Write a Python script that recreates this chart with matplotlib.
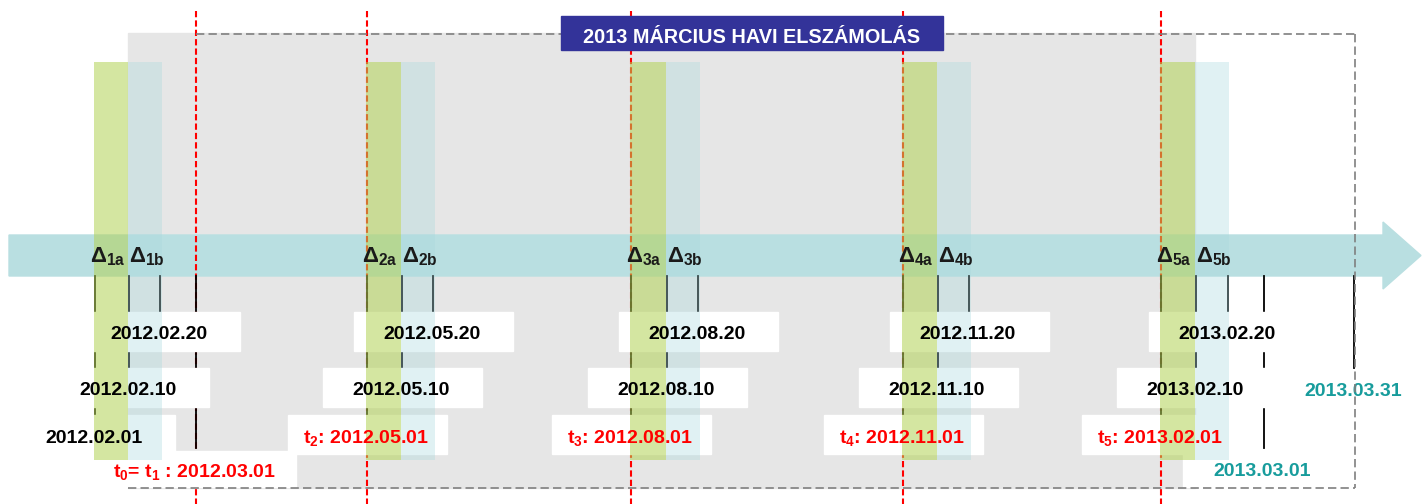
import matplotlib.pyplot as plt
from matplotlib.patches import Rectangle, Polygon

plt.rcParams['font.family'] = ['Liberation Sans', 'DejaVu Sans']
plt.rcParams['mathtext.fontset'] = 'custom'
plt.rcParams['mathtext.rm'] = 'Liberation Sans'
plt.rcParams['mathtext.bf'] = 'Liberation Sans:bold'
plt.rcParams['mathtext.it'] = 'Liberation Sans:italic'
plt.rcParams['mathtext.default'] = 'bf'

# timeline data (x = position on the drawn time axis)
periods = ['1', '2', '3', '4', '5']
day01_x = [95, 367, 631, 903, 1161]
day10_x = [129, 402, 667, 938, 1196]
day20_x = [160, 433, 698, 969, 1228]
t_x = [196, 367, 631, 903, 1161]

dates_20 = ['2012.02.20', '2012.05.20', '2012.08.20', '2012.11.20', '2013.02.20']
dates_10 = ['2012.02.10', '2012.05.10', '2012.08.10', '2012.11.10', '2013.02.10']
dates_01 = ['2012.02.01', 't$_2$: 2012.05.01', 't$_3$: 2012.08.01',
            't$_4$: 2012.11.01', 't$_5$: 2013.02.01']
colors_01 = ['black', 'red', 'red', 'red', 'red']

t0_label = 't$_0$= t$_1$ : 2012.03.01'
t0_x = 196
month_start_label = '2013.03.01'
month_start_x = 1264
month_end_label = '2013.03.31'
month_end_x = 1354

title = '2013 MÁRCIUS HAVI ELSZÁMOLÁS'

green = '#b2d255'
blue = '#a8d8dd'
teal = '#179c9c'

fig = plt.figure(figsize=(14.26, 5.04), dpi=100)
ax = fig.add_axes([0, 0, 1, 1])
ax.set_xlim(0, 1426)
ax.set_ylim(504, 0)
ax.axis('off')

# grey settlement window
ax.add_patch(Rectangle((128, 33), 1195 - 128, 488 - 33, color='#e6e6e6', zorder=1))

# time arrow
arrow = [(9, 235), (1383, 235), (1383, 222), (1421, 255.5),
         (1383, 289), (1383, 276), (9, 276)]
ax.add_patch(Polygon(arrow, closed=True, color='#b9dfe1', zorder=2))

# red t markers
for x in t_x:
    ax.plot([x, x], [11, 504], color='red', lw=1.5, ls=(0, (3, 1.5)), zorder=3)

# black ticks under the arrow
for i in range(len(periods)):
    ax.plot([day01_x[i]] * 2, [276, 425], color='black', lw=1.3, zorder=3)
    ax.plot([day10_x[i]] * 2, [276, 380], color='black', lw=1.3, zorder=3)
    ax.plot([day20_x[i]] * 2, [276, 320], color='black', lw=1.3, zorder=3)
for x, y1 in [(t0_x, 448), (month_start_x, 448), (month_end_x, 368)]:
    ax.plot([x, x], [276, y1], color='black', lw=1.3, zorder=3)

# white label boxes
bw, bh = 159, 38.5
rows = [(day20_x, 312), (day10_x, 368), (day01_x, 415)]
for xs, top in rows:
    for x in xs:
        ax.add_patch(Rectangle((x - bw / 2, top), bw, bh, color='white', zorder=4))
ax.add_patch(Rectangle((t0_x - 100, 451), 200, 36, color='white', zorder=4))
ax.add_patch(Rectangle((1183, 453), 160, 34, color='white', zorder=4))

# delta bands
for i in range(len(periods)):
    g0 = day01_x[i] - 1
    b0 = day10_x[i] - 1
    ax.add_patch(Rectangle((g0, 62), b0 - g0, 398, color=green, alpha=0.55, lw=0, zorder=5))
    ax.add_patch(Rectangle((b0, 62), 34, 398, color=blue, alpha=0.35, lw=0, zorder=5))
    ax.text(g0 - 4, 262, r'$\Delta_{%sa}$' % periods[i], fontsize=16, color='#1a1a1a',
            ha='left', va='baseline', zorder=8)
    ax.text(b0 + 1, 262, r'$\Delta_{%sb}$' % periods[i], fontsize=16, color='#1a1a1a',
            ha='left', va='baseline', zorder=8)

# date labels
for i in range(len(periods)):
    ax.text(day20_x[i] - 1, 339, dates_20[i], fontsize=14, fontweight='bold',
            ha='center', va='baseline', zorder=6)
    ax.text(day10_x[i] - 1, 395, dates_10[i], fontsize=14, fontweight='bold',
            ha='center', va='baseline', zorder=6)
    ax.text(day01_x[i] - 1, 443, dates_01[i], fontsize=14, fontweight='bold',
            color=colors_01[i], ha='center', va='baseline', zorder=6)
ax.text(t0_x - 2, 477, t0_label, fontsize=14, fontweight='bold', color='red',
        ha='center', va='baseline', zorder=6)
ax.text(month_start_x - 2, 476, month_start_label, fontsize=14, fontweight='bold',
        color=teal, ha='center', va='baseline', zorder=6)
ax.text(month_end_x - 1, 396, month_end_label, fontsize=14, fontweight='bold',
        color=teal, ha='center', va='baseline', zorder=6)

# dashed frame of the settlement period
dash = dict(color='#7f7f7f', lw=1.2, ls=(0, (5, 2.5)), zorder=7)
ax.plot([196, 1355], [34, 34], **dash)
ax.plot([1355, 1355], [34, 488], **dash)
ax.plot([128, 1355], [488, 488], **dash)

# title box
ax.add_patch(Rectangle((561, 16), 943 - 561, 34, color='#333399', zorder=9))
ax.text(752, 43, title, fontsize=14.3, fontweight='bold', color='white',
        ha='center', va='baseline', zorder=10)

fig.savefig('out.png', dpi=100)
